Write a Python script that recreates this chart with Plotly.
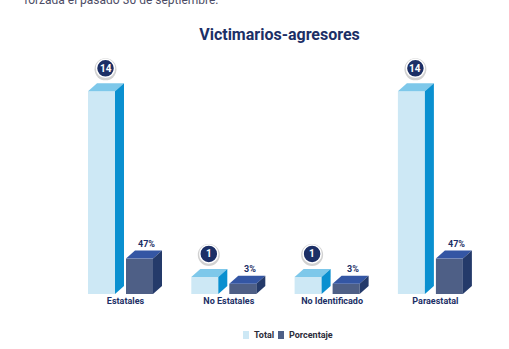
import plotly.graph_objects as go

# ---------------- data ----------------
categories = ["Estatales", "No Estatales", "No Identificado", "Paraestatal"]
total = [14, 1, 1, 14]
porcentaje = [47, 3, 3, 47]
pct_labels = [f"{v}%" for v in porcentaje]
series_names = ["Total", "Porcentaje"]
title_text = "Victimarios-agresores"
top_text = "forzada el pasado 30 de septiembre."

# ---------------- layout constants ----------------
W, H = 509, 349
M_T, M_B = 40, 55
PLOT_H = H - M_T - M_B
GROUP_PX = 103.3
FIRST_PX = 120.5
BAR_PX = 27
HALF_GAP_PX = 19
DX, DY = 9, 8
X_RANGE = [-FIRST_PX / GROUP_PX, (W - FIRST_PX) / GROUP_PX]
T_RANGE = [-0.2, 17.6]
P_RANGE = [-15, 430]
NAVY = "#1c2f66"
FONT = "Roboto"

TOTAL_COLS = dict(front="#cde8f5", top="#7ec8ea", side="#0a90d0")
PCT_COLS = dict(front="#4e5f86", top="#3456a4", side="#243a6a")

idx = list(range(len(categories)))
off = HALF_GAP_PX / GROUP_PX
bw = BAR_PX / GROUP_PX
x_total = [i - off for i in idx]
x_pct = [i + off for i in idx]

fig = go.Figure()
fig.add_trace(go.Bar(
    x=x_total, y=[v - T_RANGE[0] for v in total], base=T_RANGE[0], width=bw,
    marker=dict(color=TOTAL_COLS["front"], line=dict(width=0)),
    name=series_names[0], yaxis="y", hoverinfo="skip", showlegend=False))
fig.add_trace(go.Bar(
    x=x_pct, y=[v - P_RANGE[0] for v in porcentaje], base=P_RANGE[0], width=bw,
    marker=dict(color=PCT_COLS["front"], line=dict(width=0)),
    name=series_names[1], yaxis="y2", hoverinfo="skip", showlegend=False))

shapes = []
annotations = []


def add_3d(xs, vals, yref, rng, cols):
    ppu = PLOT_H / (rng[1] - rng[0])
    dyu = DY / ppu
    base = rng[0]
    for x, v in zip(xs, vals):
        # top face
        shapes.append(dict(
            type="path", xref="x", yref=yref,
            xsizemode="pixel", xanchor=x - bw / 2,
            ysizemode="pixel", yanchor=v,
            path=f"M 0,0 L {BAR_PX},0 L {BAR_PX + DX},{DY} L {DX},{DY} Z",
            fillcolor=cols["top"], line=dict(width=0)))
        # side face
        shapes.append(dict(
            type="path", xref="x", yref=yref,
            xsizemode="pixel", xanchor=x + bw / 2,
            path=f"M 0,{base} L 0,{v} L {DX},{v + dyu} L {DX},{base + dyu} Z",
            fillcolor=cols["side"], line=dict(width=0)))


add_3d(x_total, total, "y", T_RANGE, TOTAL_COLS)
add_3d(x_pct, porcentaje, "y2", P_RANGE, PCT_COLS)

# badges over total bars
for x, v in zip(x_total, total):
    cx, cy, r = 4, 23, 9
    shapes.append(dict(
        type="circle", xref="x", yref="y",
        xsizemode="pixel", xanchor=x, x0=cx - r - 2, x1=cx + r + 2,
        ysizemode="pixel", yanchor=v, y0=cy - r - 3, y1=cy + r + 1,
        fillcolor="rgba(0,0,0,0.18)", line=dict(width=0)))
    shapes.append(dict(
        type="circle", xref="x", yref="y",
        xsizemode="pixel", xanchor=x, x0=cx - r, x1=cx + r,
        ysizemode="pixel", yanchor=v, y0=cy - r, y1=cy + r,
        fillcolor=NAVY, line=dict(color="white", width=1.5)))
    annotations.append(dict(
        x=x, y=v, xref="x", yref="y", xshift=cx, yshift=cy,
        text=f"<b>{v}</b>", showarrow=False,
        font=dict(family=FONT, size=10, color="white"),
        xanchor="center", yanchor="middle"))

# percentage labels
for x, v, t in zip(x_pct, porcentaje, pct_labels):
    annotations.append(dict(
        x=x, y=v, xref="x", yref="y2", xshift=7, yshift=15,
        text=f"<b>{t}</b>", showarrow=False,
        font=dict(family=FONT, size=9, color=NAVY),
        xanchor="center", yanchor="middle"))

# custom legend (swatch + label)
LEG_Y_PX = 335
leg_items = [(series_names[0], TOTAL_COLS["front"], 243),
             (series_names[1], PCT_COLS["front"], 278)]
for name, col, px in leg_items:
    shapes.append(dict(
        type="rect", xref="paper", yref="paper",
        x0=px / W, x1=(px + 6) / W,
        y0=(H - M_B - (LEG_Y_PX + 4)) / PLOT_H,
        y1=(H - M_B - (LEG_Y_PX - 4)) / PLOT_H,
        fillcolor=col, line=dict(width=0)))
    annotations.append(dict(
        x=(px + 9) / W, y=(H - M_B - LEG_Y_PX) / PLOT_H,
        xref="paper", yref="paper", text=f"<b>{name}</b>", showarrow=False,
        xanchor="left", yanchor="middle",
        font=dict(family=FONT, size=9, color="#2b2b3a")))

# cut-off text at top of page
annotations.append(dict(
    x=22 / W, y=(H - M_B) / PLOT_H, xref="paper", yref="paper",
    text=top_text, showarrow=False, xanchor="left", yanchor="middle",
    font=dict(family=FONT, size=12, color="#4d4d66")))

fig.update_layout(
    width=W, height=H,
    margin=dict(l=0, r=0, t=M_T, b=M_B, pad=0),
    paper_bgcolor="white", plot_bgcolor="white",
    barmode="overlay", showlegend=False,
    title=dict(text=f"<b>{title_text}</b>", x=279.5 / W, xanchor="center",
               y=1 - 34 / H, yanchor="middle", yref="container",
               font=dict(family=FONT, size=16, color=NAVY)),
    xaxis=dict(range=X_RANGE, tickvals=[i + 5 / GROUP_PX for i in idx],
               ticktext=categories, showgrid=False, zeroline=False,
               showline=False, ticks="",
               tickfont=dict(family=FONT, size=9, color=NAVY, weight="bold")),
    yaxis=dict(range=T_RANGE, visible=False, fixedrange=True),
    yaxis2=dict(range=P_RANGE, visible=False, overlaying="y", fixedrange=True),
    shapes=shapes, annotations=annotations,
)

fig.write_html("out.html")
